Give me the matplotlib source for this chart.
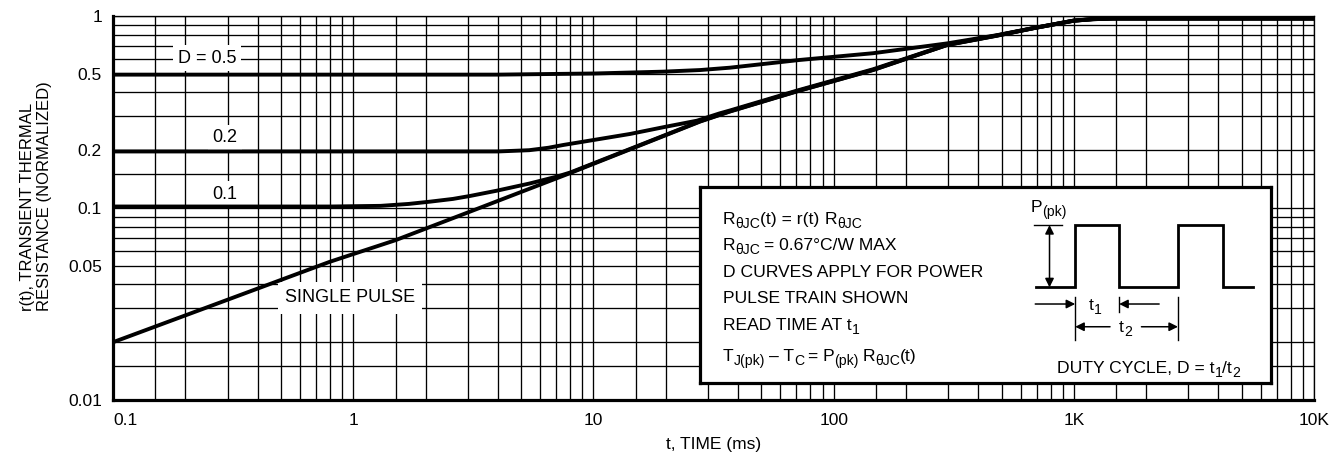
import matplotlib.pyplot as plt
from matplotlib.ticker import FixedLocator, LogLocator, NullFormatter

plt.rcParams['font.family'] = ['Liberation Sans', 'DejaVu Sans']

# transient thermal response curves, t in ms, r(t) normalized
t_d05 = [0.1, 4, 10.2, 19.5, 27.8, 37, 72, 146, 297, 480, 677, 850, 1000, 1200, 1455, 10000]
r_d05 = [0.495, 0.495, 0.502, 0.513, 0.523, 0.538, 0.59, 0.64, 0.72, 0.795, 0.865, 0.912, 0.947, 0.965, 0.972, 0.972]

t_d02 = [0.1, 4, 5.4, 6.5, 7.5, 10, 14.2, 20, 27, 33.5, 37, 70, 146, 194, 297, 480, 677, 850, 1000, 1200, 1455, 10000]
r_d02 = [0.197, 0.197, 0.2, 0.206, 0.213, 0.226, 0.243, 0.265, 0.285, 0.311, 0.322, 0.408, 0.528, 0.594, 0.709, 0.793, 0.864, 0.911, 0.946, 0.963, 0.971, 0.971]

t_d01 = [0.1, 0.8, 1.3, 1.7, 2.1, 2.6, 3.06, 3.95, 5.4, 7.03, 8.0, 14.2, 27.8, 37, 70, 146, 194, 297, 480, 677, 850, 1000, 1200, 1455, 10000]
r_d01 = [0.1018, 0.1018, 0.1026, 0.105, 0.108, 0.1115, 0.1155, 0.123, 0.134, 0.1456, 0.153, 0.203, 0.283, 0.319, 0.405, 0.524, 0.591, 0.707, 0.791, 0.863, 0.91, 0.945, 0.962, 0.97, 0.97]

t_single = [0.1, 0.8, 1.5, 3.06, 8.0, 14.2, 27.8, 37, 70, 146, 194, 297, 480, 677, 850, 1000, 1200, 1455, 10000]
r_single = [0.020, 0.0525, 0.068, 0.0957, 0.152, 0.202, 0.282, 0.318, 0.404, 0.523, 0.59, 0.706, 0.79, 0.863, 0.91, 0.945, 0.962, 0.97, 0.97]

x_ticks = [0.1, 1, 10, 100, 1000, 10000]
x_ticklabels = ['0.1', '1', '10', '100', '1K', '10K']
y_ticks = [0.01, 0.05, 0.1, 0.2, 0.5, 1]
y_ticklabels = ['0.01', '0.05', '0.1', '0.2', '0.5', '1']

fig = plt.figure(figsize=(13.3, 4.57), dpi=100)
ax = fig.add_axes([0.085, 0.1247, 0.903, 0.8403])
ax.set_xscale('log')
ax.set_yscale('log')
ax.set_xlim(0.1, 10000)
ax.set_ylim(0.01, 1)

for t, r in [(t_d05, r_d05), (t_d02, r_d02), (t_d01, r_d01), (t_single, r_single)]:
    ax.plot(t, r, color='black', lw=2.8, solid_capstyle='butt', solid_joinstyle='round', zorder=4)

ax.xaxis.set_major_locator(FixedLocator(x_ticks))
ax.set_xticklabels(x_ticklabels)
ax.get_xticklabels()[0].set_ha('left')
ax.yaxis.set_major_locator(FixedLocator(y_ticks))
ax.set_yticklabels(y_ticklabels)
ax.xaxis.set_minor_locator(LogLocator(base=10, subs=(1.5, 2, 3, 4, 5, 6, 7, 8, 9), numticks=20))
ax.yaxis.set_minor_locator(LogLocator(base=10, subs=(1.5, 2, 3, 4, 5, 6, 7, 8, 9), numticks=20))
ax.xaxis.set_minor_formatter(NullFormatter())
ax.yaxis.set_minor_formatter(NullFormatter())
ax.set_axisbelow(True)
ax.grid(which='both', color='black', lw=0.95)
ax.tick_params(which='both', length=0, labelsize=12.5)
ax.tick_params(axis='x', pad=9)
ax.tick_params(axis='y', pad=8)
for side in ['left', 'bottom']:
    ax.spines[side].set_linewidth(2.3)
for side in ['top', 'right']:
    ax.spines[side].set_linewidth(0.95)

ax.set_xlabel('t, TIME (ms)', fontsize=12.5, labelpad=7)
ax.set_ylabel('r(t), TRANSIENT THERMAL\nRESISTANCE (NORMALIZED)', fontsize=12,
              linespacing=1.15, multialignment='left')
ax.yaxis.set_label_coords(-0.051, 0.53)

label_box = dict(boxstyle='square,pad=0.25', facecolor='white', edgecolor='none')
ax.text(0.246, 0.604, 'D = 0.5', fontsize=13, ha='center', va='center', bbox=label_box, zorder=3)
ax.text(0.292, 0.232, '0.2', fontsize=13, ha='center', va='center', bbox=label_box, zorder=3)
ax.text(0.292, 0.118, '0.1', fontsize=13, ha='center', va='center', bbox=label_box, zorder=3)
ax.text(0.97, 0.034, 'SINGLE PULSE', fontsize=13, ha='center', va='center',
        bbox=dict(boxstyle='square,pad=0.4', facecolor='white', edgecolor='none'), zorder=3)

# note box with the pulse train sketch
box = ax.inset_axes([0.4888, 0.0443, 0.4754, 0.5104])
box.set_xlim(0, 1)
box.set_ylim(0, 1)
box.set_xticks([])
box.set_yticks([])
box.set_facecolor('white')
for s in box.spines.values():
    s.set_linewidth(2.3)

FS = 12.6
SUB = 0.8
SPACE = 0.278  # space advance, in em


def rich_text(x, y, parts, size=FS):
    """Write a run of normal / subscript pieces starting at baseline (x, y)."""
    base = box.text(x, y, parts[0][0], fontsize=size, va='baseline', ha='left')
    prev = base
    prev_size = size
    for s, sub in parts[1:]:
        fs = size * SUB if sub else size
        gap = (len(s) - len(s.lstrip(' '))) * SPACE * prev_size
        dy = -2.9 if sub else 0
        prev = box.annotate(s.lstrip(' '), xy=(1, 0), xycoords=(prev, base),
                            xytext=(gap, dy), textcoords='offset points',
                            fontsize=fs, va='bottom', ha='left')
        prev_size = fs
    return base


notes = [
    [('R', False), ('θJC', True), ('(t) = r(t)', False), (' R', False), ('θJC', True)],
    [('R', False), ('θJC', True), (' = 0.67°C/W MAX', False)],
    [('D CURVES APPLY FOR POWER', False)],
    [('PULSE TRAIN SHOWN', False)],
    [('READ TIME AT t', False), ('1', True)],
    [('T', False), ('J(pk)', True), (' – T', False), ('C', True), (' = P', False),
     ('(pk)', True), (' R', False), ('θJC', True), ('(t)', False)],
]
note_v = [0.810, 0.679, 0.543, 0.407, 0.270, 0.114]
for parts, v in zip(notes, note_v):
    rich_text(0.040, v, parts)

pulse_u = [0.588, 0.657, 0.657, 0.734, 0.734, 0.837, 0.837, 0.915, 0.915, 0.969]
pulse_v = [0.488, 0.488, 0.806, 0.806, 0.488, 0.488, 0.806, 0.806, 0.488, 0.488]
box.plot(pulse_u, pulse_v, color='black', lw=2.0, solid_joinstyle='miter')


def arrow(x0, y0, x1, y1, style='-|>'):
    box.annotate('', xy=(x1, y1), xytext=(x0, y0),
                 arrowprops=dict(arrowstyle=style, color='black', lw=1.1,
                                 mutation_scale=13, shrinkA=0, shrinkB=0))


box.plot([0.585, 0.634], [0.806, 0.806], color='black', lw=1.0)
arrow(0.612, 0.488, 0.612, 0.806, '<|-|>')
box.plot([0.657, 0.657], [0.439, 0.219], color='black', lw=1.0)
box.plot([0.734, 0.734], [0.439, 0.362], color='black', lw=1.0)
box.plot([0.837, 0.837], [0.439, 0.219], color='black', lw=1.0)
arrow(0.587, 0.403, 0.657, 0.403)
arrow(0.804, 0.403, 0.734, 0.403)
arrow(0.718, 0.287, 0.657, 0.287)
arrow(0.773, 0.287, 0.837, 0.287)
rich_text(0.579, 0.871, [('P', False), ('(pk)', True)])
rich_text(0.681, 0.372, [('t', False), ('1', True)])
rich_text(0.734, 0.262, [('t', False), ('2', True)])
rich_text(0.625, 0.053, [('DUTY CYCLE, D = t', False), ('1', True), ('/t', False), ('2', True)])

fig.savefig('out.png', dpi=100)
